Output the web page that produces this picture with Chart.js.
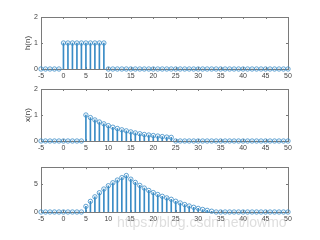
<!DOCTYPE html>
<html>
<head>
<meta charset="utf-8">
<script src="https://cdn.jsdelivr.net/npm/chart.js@4"></script>
<style>
  html, body { margin: 0; padding: 0; background: #fff; }
  #wrap { position: relative; width: 320px; height: 240px; overflow: hidden; }
  .plot { position: absolute; left: 0; width: 320px; height: 80px; }
  .ylab {
    position: absolute; font: 8px "Liberation Sans", Arial, sans-serif; color: #404040;
    transform: translate(-50%, -50%) rotate(-90deg); white-space: nowrap;
  }
  #mark {
    position: absolute; left: 117px; top: 214px; font: 14px "Liberation Sans", Arial, sans-serif;
    color: rgba(190, 190, 190, 0.5); white-space: nowrap;
  }
</style>
</head>
<body>
<div id="wrap">
  <div class="plot" style="top:0"><canvas id="c1" width="320" height="80"></canvas></div>
  <div class="plot" style="top:80px"><canvas id="c2" width="320" height="80"></canvas></div>
  <div class="plot" style="top:160px"><canvas id="c3" width="320" height="80"></canvas></div>
  <div class="ylab" style="left:27px; top:43px">h(n)</div>
  <div class="ylab" style="left:27px; top:115px">x(n)</div>
  <div id="mark">https://blog.csdn.net/lowmo</div>
</div>
<script>
// sample index n = -5 .. 50
const n = [-5, -4, -3, -2, -1, 0, 1, 2, 3, 4, 5, 6, 7, 8, 9, 10, 11, 12, 13, 14,
  15, 16, 17, 18, 19, 20, 21, 22, 23, 24, 25, 26, 27, 28, 29, 30, 31, 32, 33, 34,
  35, 36, 37, 38, 39, 40, 41, 42, 43, 44, 45, 46, 47, 48, 49, 50];

// h(n): 1 for n = 0..9
const hVals = [0, 0, 0, 0, 0, 1, 1, 1, 1, 1, 1, 1, 1, 1, 1, 0, 0, 0, 0, 0,
  0, 0, 0, 0, 0, 0, 0, 0, 0, 0, 0, 0, 0, 0, 0, 0, 0, 0, 0, 0,
  0, 0, 0, 0, 0, 0, 0, 0, 0, 0, 0, 0, 0, 0, 0, 0];

// x(n): decaying from n = 5 to n = 24
const xVals = [0, 0, 0, 0, 0, 0, 0, 0, 0, 0, 1, 0.9, 0.81, 0.73, 0.66, 0.59, 0.53, 0.48, 0.43, 0.39,
  0.35, 0.31, 0.28, 0.25, 0.23, 0.21, 0.19, 0.17, 0.15, 0.14, 0, 0, 0, 0, 0, 0, 0, 0, 0, 0,
  0, 0, 0, 0, 0, 0, 0, 0, 0, 0, 0, 0, 0, 0, 0, 0];

// y(n) = h(n) * x(n)
const yVals = [0, 0, 0, 0, 0, 0, 0, 0, 0, 0, 1, 1.9, 2.71, 3.44, 4.1, 4.69, 5.22, 5.7, 6.13, 6.51,
  5.86, 5.28, 4.75, 4.27, 3.85, 3.46, 3.12, 2.8, 2.52, 2.27, 1.92, 1.61, 1.33, 1.07, 0.84, 0.64, 0.45, 0.29, 0.14, 0,
  0, 0, 0, 0, 0, 0, 0, 0, 0, 0, 0, 0, 0, 0, 0, 0];

const xTicks = [-5, 0, 5, 10, 15, 20, 25, 30, 35, 40, 45, 50];
const yTicksTop = [0, 1, 2];
const yTicksBottom = [0, 5];

const stemColor = '#3a8cc6';
const axisColor = '#7a7a7a';
const font = { family: 'Liberation Sans', size: 7 };

// box + inward tick marks, like a MATLAB axes
const boxPlugin = {
  id: 'box',
  beforeDatasetsDraw(chart) {
    const { ctx, chartArea: a, scales } = chart;
    ctx.save();
    ctx.strokeStyle = axisColor;
    ctx.lineWidth = 1;
    ctx.strokeRect(Math.round(a.left) + 0.5, Math.round(a.top) + 0.5,
      Math.round(a.right - a.left), Math.round(a.bottom - a.top));
    ctx.beginPath();
    scales.x.ticks.forEach(t => {
      const px = Math.round(scales.x.getPixelForValue(t.value)) + 0.5;
      ctx.moveTo(px, a.top); ctx.lineTo(px, a.top + 2);
      ctx.moveTo(px, a.bottom); ctx.lineTo(px, a.bottom - 2);
    });
    scales.y.ticks.forEach(t => {
      const py = Math.round(scales.y.getPixelForValue(t.value)) + 0.5;
      ctx.moveTo(a.left, py); ctx.lineTo(a.left + 2, py);
      ctx.moveTo(a.right, py); ctx.lineTo(a.right - 2, py);
    });
    ctx.stroke();
    ctx.restore();
  }
};

function stemChart(id, vals, yMax, yTicks, padTop, xAxisH) {
  const pts = n.map((v, i) => ({ x: v, y: vals[i] }));
  return new Chart(document.getElementById(id), {
    data: {
      datasets: [
        {
          type: 'bar',
          data: pts,
          backgroundColor: stemColor,
          barThickness: 1,
          grouped: false
        },
        {
          type: 'line',
          data: pts,
          showLine: false,
          pointStyle: 'circle',
          pointRadius: 2.2,
          pointBorderWidth: 0.8,
          pointBorderColor: stemColor,
          pointBackgroundColor: 'rgba(0,0,0,0)',
          clip: false
        }
      ]
    },
    options: {
      responsive: false,
      animation: false,
      events: [],
      layout: { padding: { left: 0, right: 32, top: padTop, bottom: 0 } },
      plugins: { legend: { display: false }, tooltip: { enabled: false } },
      scales: {
        x: {
          type: 'linear', min: -5, max: 50, offset: false,
          grid: { display: false, drawTicks: false, offset: false },
          border: { display: false },
          afterFit: a => { a.height = xAxisH; },
          afterBuildTicks: a => { a.ticks = xTicks.map(v => ({ value: v })); },
          ticks: { font, color: '#444', padding: 3, maxRotation: 0, autoSkip: false }
        },
        y: {
          type: 'linear', min: 0, max: yMax,
          grid: { display: false, drawTicks: false },
          border: { display: false },
          afterFit: a => { a.width = 41; },
          afterBuildTicks: a => { a.ticks = yTicks.map(v => ({ value: v })); },
          ticks: { font, color: '#444', padding: 3 }
        }
      }
    },
    plugins: [boxPlugin]
  });
}

stemChart('c1', hVals, 2, yTicksTop, 17, 11);
stemChart('c2', xVals, 2, yTicksTop, 9, 19);
stemChart('c3', yVals, 8, yTicksBottom, 2, 28);
</script>
</body>
</html>
